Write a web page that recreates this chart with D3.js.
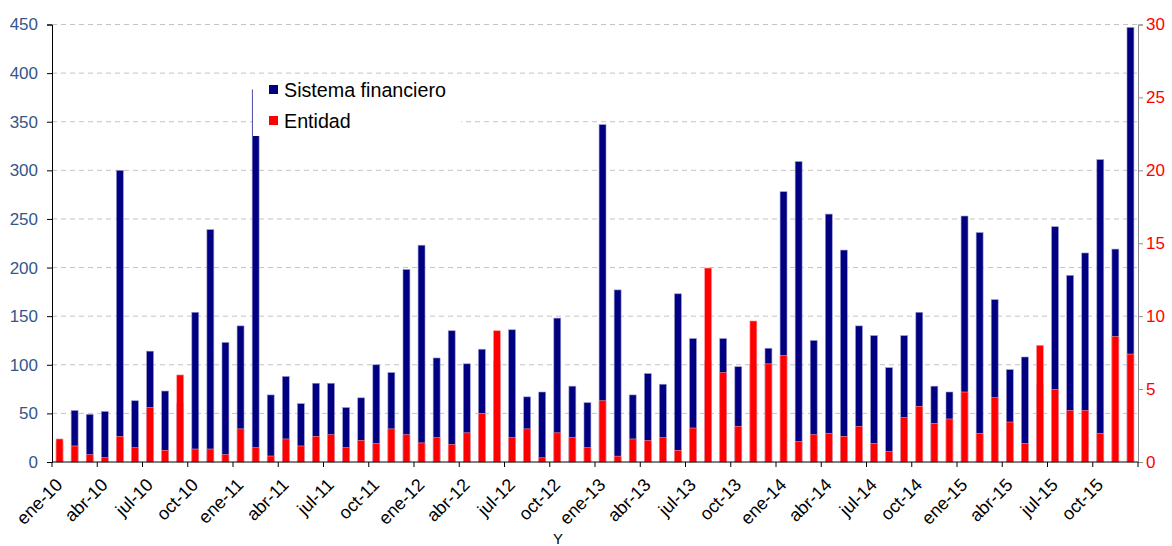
<!DOCTYPE html>
<html>
<head>
<meta charset="utf-8">
<script src="https://cdn.jsdelivr.net/npm/d3@7"></script>
<style>
  body { margin: 0; background: #fff; }
  svg { display: block; font-family: "Liberation Sans", Arial, sans-serif; }
</style>
</head>
<body>
<script>
'use strict';

const meses = ["ene", "feb", "mar", "abr", "may", "jun", "jul", "ago", "sep", "oct", "nov", "dic"];
const anios = ["10", "11", "12", "13", "14", "15"];
const periodos = anios.flatMap(a => meses.map(m => m + "-" + a));

// Sistema financiero (eje izquierdo)
const sistema = [
  20, 53, 49, 52, 300, 63, 114, 73, 60, 154, 239, 123,
  140, 383, 69, 88, 60, 81, 81, 56, 66, 100, 92, 198,
  223, 107, 135, 101, 116, 104, 136, 67, 72, 148, 78, 61,
  347, 177, 69, 91, 80, 173, 127, 104, 127, 98, 100, 117,
  278, 309, 125, 255, 218, 140, 130, 97, 130, 154, 78, 72,
  253, 236, 167, 95, 108, 80, 242, 192, 215, 311, 219, 447
];

// Entidad (eje derecho)
const entidad = [
  1.58, 1.1, 0.5, 0.3, 1.76, 0.98, 3.73, 0.8, 5.97, 0.89, 0.89, 0.5,
  2.27, 0.98, 0.41, 1.58, 1.1, 1.76, 1.87, 0.98, 1.48, 1.28, 2.27, 1.87,
  1.31, 1.67, 1.2, 2.0, 3.33, 9.0, 1.67, 2.27, 0.29, 2.0, 1.67, 0.98,
  4.2, 0.4, 1.58, 1.47, 1.67, 0.8, 2.33, 13.3, 6.13, 2.45, 9.67, 6.73,
  7.3, 1.4, 1.87, 1.97, 1.76, 2.44, 1.28, 0.71, 3.04, 3.82, 2.65, 2.95,
  4.8, 1.96, 4.41, 2.74, 1.28, 8.0, 4.98, 3.52, 3.52, 1.96, 8.6, 7.4
];

const ticksIzq = [0, 50, 100, 150, 200, 250, 300, 350, 400, 450];
const ticksDer = [0, 5, 10, 15, 20, 25, 30];
const series = ["Sistema financiero", "Entidad"];
const colores = ["#000080", "#ff0000"];

(function () {
  const W = 1172, H = 546;
  const pLeft = 52, pRight = 1138, pTop = 24.5, pBottom = 462;

  const svg = d3.select("body").append("svg")
    .attr("width", W).attr("height", H);

  const x = d3.scaleBand()
    .domain(periodos)
    .range([pLeft, pRight])
    .paddingInner(0.54)
    .paddingOuter(0.27);

  const yL = d3.scaleLinear().domain([0, 450]).range([pBottom, pTop]);
  const yR = d3.scaleLinear().domain([0, 30]).range([pBottom, pTop]);

  // gridlines
  svg.append("g")
    .selectAll("line")
    .data(ticksIzq.filter(d => d > 0))
    .join("line")
    .attr("x1", pLeft).attr("x2", pRight)
    .attr("y1", d => yL(d)).attr("y2", d => yL(d))
    .attr("stroke", "#c4c4c4")
    .attr("stroke-width", 1)
    .attr("stroke-dasharray", "5,4");

  // bars
  svg.append("g")
    .selectAll("rect")
    .data(sistema)
    .join("rect")
    .attr("x", (d, i) => x(periodos[i]))
    .attr("width", x.bandwidth())
    .attr("y", d => yL(d))
    .attr("height", d => yL(0) - yL(d))
    .attr("fill", colores[0])
    .attr("stroke", "#9a9ad0")
    .attr("stroke-width", 0.6);

  svg.append("g")
    .selectAll("rect")
    .data(entidad)
    .join("rect")
    .attr("x", (d, i) => x(periodos[i]))
    .attr("width", x.bandwidth())
    .attr("y", d => yR(d))
    .attr("height", d => yR(0) - yR(d))
    .attr("fill", colores[1])
    .attr("stroke", "#ff9a9a")
    .attr("stroke-width", 0.6);

  // left axis
  const axL = svg.append("g")
    .attr("transform", "translate(" + pLeft + ",0)")
    .call(d3.axisLeft(yL).tickValues(ticksIzq).tickSize(5).tickPadding(9));
  axL.select(".domain").attr("stroke", "#000");
  axL.selectAll("line").attr("stroke", "#000");
  axL.selectAll("text")
    .attr("fill", "#34578a")
    .style("font-size", "17px")
    .style("font-family", "Liberation Sans, Arial, sans-serif");

  // right axis
  const axR = svg.append("g")
    .attr("transform", "translate(" + pRight + ",0)")
    .call(d3.axisRight(yR).tickValues(ticksDer).tickSize(5).tickPadding(3));
  axR.select(".domain").attr("stroke", "#8c8c8c");
  axR.selectAll("line").attr("stroke", "#8c8c8c");
  axR.selectAll("text")
    .attr("fill", "#ff0000")
    .style("font-size", "17px")
    .style("font-family", "Liberation Sans, Arial, sans-serif");

  // x axis
  const step = x.step();
  const bordes = d3.range(0, periodos.length + 1, 3);
  const gx = svg.append("g");
  gx.append("line")
    .attr("x1", pLeft).attr("x2", pRight)
    .attr("y1", pBottom).attr("y2", pBottom)
    .attr("stroke", "#000");
  gx.selectAll(".tk")
    .data(bordes)
    .join("line")
    .attr("class", "tk")
    .attr("x1", d => pLeft + d * step).attr("x2", d => pLeft + d * step)
    .attr("y1", pBottom).attr("y2", pBottom + 5)
    .attr("stroke", "#000");
  gx.selectAll("text")
    .data(periodos.filter((d, i) => i % 3 === 0))
    .join("text")
    .attr("text-anchor", "end")
    .attr("transform", d => "translate(" + (x(d) + x.bandwidth() / 2 + 4) + "," + (pBottom + 24) + ") rotate(-45)")
    .style("font-size", "18px")
    .attr("fill", "#000")
    .text(d => d);

  // título del eje (recortado en el original)
  svg.append("text")
    .attr("x", 558).attr("y", 544)
    .attr("text-anchor", "middle")
    .style("font-size", "15px")
    .text("Y");

  // legend
  const leg = svg.append("g");
  leg.append("rect")
    .attr("x", 253).attr("y", 74)
    .attr("width", 208).attr("height", 62)
    .attr("fill", "#fff");
  series.forEach((s, i) => {
    leg.append("rect")
      .attr("x", 269).attr("y", 85 + i * 31)
      .attr("width", 9).attr("height", 9)
      .attr("fill", colores[i]);
    leg.append("text")
      .attr("x", 284).attr("y", 97 + i * 31)
      .style("font-size", "19.7px")
      .attr("fill", "#000")
      .text(s);
  });
})();
</script>
</body>
</html>
